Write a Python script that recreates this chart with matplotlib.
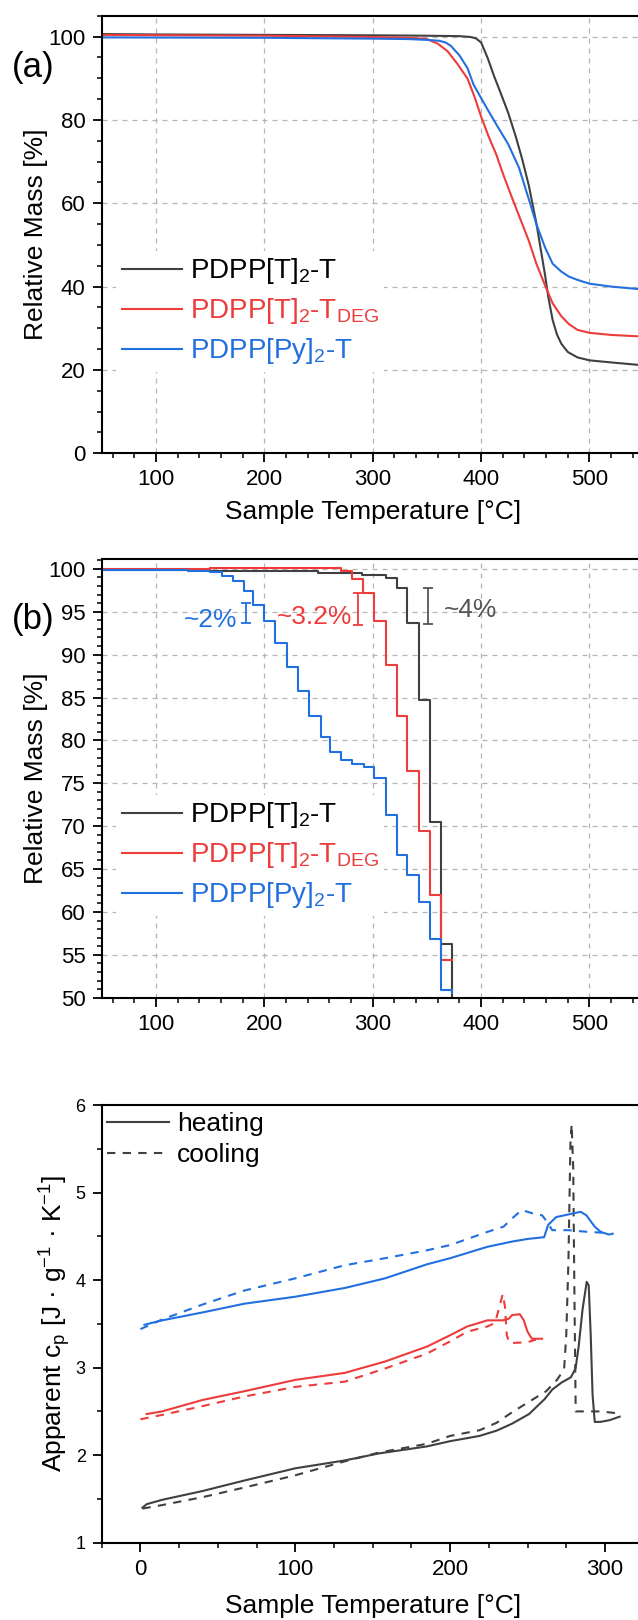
import matplotlib
matplotlib.use('Agg')
import matplotlib.pyplot as plt
import matplotlib.ticker as ticker
from matplotlib.lines import Line2D

plt.rcParams['font.family'] = ['Liberation Sans', 'DejaVu Sans']
plt.rcParams['mathtext.fontset'] = 'custom'
plt.rcParams['mathtext.rm'] = 'Liberation Sans'
plt.rcParams['mathtext.it'] = 'Liberation Sans:italic'
plt.rcParams['mathtext.bf'] = 'Liberation Sans:bold'

GRAY = '#404040'
RED = '#ee3b3b'
BLUE = '#2270e0'

labels = ['PDPP[T]$_2$-T', 'PDPP[T]$_2$-T$_{\\mathrm{DEG}}$', 'PDPP[Py]$_2$-T']

# (a) TGA ramp
t_a_t = [50, 100, 200, 300, 350, 380, 390, 395, 400, 406, 412, 418, 425, 432, 438, 444,
         451, 455, 459, 462, 466, 470, 474, 480, 489, 500, 520, 550]
m_a_t = [100.6, 100.5, 100.4, 100.3, 100.2, 100.1, 99.9, 99.6, 98.6, 94.9, 90.5, 86.5,
         81.7, 76.0, 70.5, 64.3, 55.2, 49.0, 42.8, 37.5, 32.0, 28.5, 26.3, 24.3, 23.0,
         22.3, 21.8, 21.1]
t_a_deg = [50, 200, 300, 330, 340, 350, 360, 369, 378, 387.5, 394, 400, 407, 414, 421,
           429, 436.5, 444, 451, 459, 466, 474, 481, 489, 500, 520, 550]
m_a_deg = [100.4, 100.2, 99.9, 99.7, 99.6, 99.4, 98.3, 96.5, 93.5, 89.9, 85.5, 80.8, 76.0,
           71.7, 66.5, 61.0, 56.0, 51.0, 45.5, 40.3, 36.0, 32.9, 31.0, 29.6, 28.9, 28.4,
           28.0]
t_a_py = [50, 200, 300, 332, 350, 361, 367, 372, 380, 387.5, 393, 398.8, 406, 415, 425,
          435, 444, 451, 459, 466, 474, 481, 489, 500, 520, 550]
m_a_py = [99.8, 99.7, 99.5, 99.4, 99.2, 99.0, 98.6, 97.8, 95.5, 92.4, 88.5, 85.8, 82.5,
          78.5, 74.2, 68.5, 61.0, 55.0, 49.4, 45.5, 43.6, 42.4, 41.6, 40.7, 40.0, 39.3]

# (b) TGA isothermal steps
t_b_t = [50, 150, 200, 250, 290, 312, 322, 332, 343, 353, 363, 373, 374]
m_b_t = [99.9, 99.8, 99.7, 99.5, 99.3, 98.9, 97.8, 93.7, 84.7, 70.5, 56.3, 49.0, 49.0]
t_b_deg = [50, 150, 271, 281, 291, 301, 312, 322, 332, 343, 353, 363, 373]
m_b_deg = [100.0, 100.1, 99.7, 98.8, 97.2, 93.9, 88.8, 82.8, 76.4, 69.4, 62.0, 54.4, 54.4]
t_b_py = [50, 100, 130, 150, 161, 171, 181, 190, 200, 210, 221, 231, 241, 252, 261, 271,
          281, 292, 301, 312, 322, 332, 343, 353, 363, 373]
m_b_py = [99.9, 99.9, 99.8, 99.6, 99.2, 98.6, 97.4, 95.8, 93.9, 91.4, 88.6, 85.7, 82.8,
          80.4, 78.7, 77.7, 77.3, 76.9, 75.6, 71.3, 66.6, 64.3, 61.2, 56.9, 50.9, 50.6]

# step annotations: bar x, bar bottom, bar top, text x, text y, text, colour
steps_note = [
    (182.8, 93.7, 96.0, 150.8, 94.0, '~2%', BLUE),
    (286.2, 93.5, 97.2, 246.8, 94.4, '~3.2%', RED),
    (351.4, 93.6, 97.8, 390.0, 95.2, '~4%', '#555555'),
]

# (c) DSC
t_c_t_h = [1.3, 4, 14, 40, 67, 100, 132, 154, 185, 200, 219, 230, 240, 251, 261, 266, 272,
           278, 281, 283, 285.5, 288.2, 289.5, 290.8, 292, 293.4, 297, 303, 309.5]
c_c_t_h = [1.40, 1.44, 1.49, 1.59, 1.71, 1.85, 1.94, 2.02, 2.10, 2.16, 2.22, 2.28, 2.36,
           2.47, 2.64, 2.75, 2.83, 2.89, 2.99, 3.24, 3.66, 3.98, 3.94, 3.37, 2.69, 2.38,
           2.38, 2.40, 2.44]
t_c_t_c = [1.3, 14, 40, 67, 100, 132, 154, 185, 200, 219, 230, 240, 250, 262, 269, 273.6,
           275, 276.4, 277.7, 278.5, 279.5, 280.3, 281.1, 285, 297, 307.3]
c_c_t_c = [1.39, 1.43, 1.52, 1.63, 1.77, 1.93, 2.03, 2.13, 2.22, 2.285, 2.37, 2.49, 2.60,
           2.73, 2.86, 2.98, 3.37, 4.21, 5.56, 5.78, 5.27, 3.79, 2.50, 2.50, 2.50, 2.48]
t_c_deg_h = [4, 14, 40, 67, 100, 132, 158, 185, 200, 211, 224, 234, 238, 240, 245, 247.6,
             250, 252.8, 259.4]
c_c_deg_h = [2.47, 2.50, 2.63, 2.73, 2.86, 2.94, 3.07, 3.24, 3.37, 3.47, 3.54, 3.54, 3.56,
             3.60, 3.61, 3.54, 3.41, 3.33, 3.33]
t_c_deg_c = [0, 14, 40, 67, 100, 132, 158, 185, 200, 211, 224, 229, 231.9, 234, 235.4,
             236.6, 238.4, 250, 255.4]
c_c_deg_c = [2.41, 2.46, 2.56, 2.67, 2.78, 2.84, 2.99, 3.16, 3.30, 3.41, 3.47, 3.51, 3.70,
             3.84, 3.70, 3.37, 3.28, 3.29, 3.32]
t_c_py_h = [2.6, 14, 40, 67, 100, 132, 158, 185, 200, 224, 240, 250, 260.7, 263.3, 268.5,
            276.4, 284.3, 288, 293.4, 297.3, 302.6, 305]
c_c_py_h = [3.49, 3.54, 3.63, 3.73, 3.81, 3.91, 4.02, 4.18, 4.25, 4.38, 4.44, 4.47, 4.49,
            4.63, 4.72, 4.75, 4.78, 4.74, 4.61, 4.55, 4.52, 4.53]
t_c_py_c = [0, 14, 40, 67, 100, 132, 158, 185, 200, 224, 234.5, 241, 246.3, 250, 255.4,
            259.4, 262, 266, 276.4, 289.5, 300]
c_c_py_c = [3.44, 3.55, 3.72, 3.88, 4.02, 4.17, 4.25, 4.34, 4.40, 4.55, 4.61, 4.72, 4.80,
            4.78, 4.75, 4.74, 4.68, 4.57, 4.57, 4.55, 4.54]

LW = 1.5
DASH = (0, (4, 3.5))
GRID = dict(color='#b4b4b4', linestyle=(0, (4, 4)), linewidth=0.9)


def style_axis(ax, ylabelsize=16):
    ax.spines['right'].set_visible(False)
    for s in ['left', 'bottom', 'top']:
        ax.spines[s].set_linewidth(1.5)
    ax.tick_params(which='major', direction='out', length=6.5, width=1.3, pad=5,
                   labelsize=16, top=False, right=False)
    ax.tick_params(which='minor', direction='out', length=3.5, width=1.1,
                   top=False, right=False)
    ax.tick_params(axis='y', labelsize=ylabelsize)


def tga_legend(ax):
    leg = ax.legend(loc='upper left', bbox_to_anchor=(0.027, 0.463), borderaxespad=0,
                    fontsize=20, frameon=True, facecolor='white', edgecolor='none',
                    framealpha=1, fancybox=False, borderpad=0.2, handlelength=2.15,
                    handletextpad=0.3, labelspacing=0.36)
    for txt, col in zip(leg.get_texts(), ['black', RED, BLUE]):
        txt.set_color(col)


fig = plt.figure(figsize=(6.38, 16.2), dpi=100)
ax_a = fig.add_axes([0.1594, 0.7202, 0.8495, 0.2701])
ax_b = fig.add_axes([0.1594, 0.3841, 0.8495, 0.2706])
ax_c = fig.add_axes([0.1594, 0.0477, 0.8495, 0.2702])

# panel (a)
ax_a.plot(t_a_t, m_a_t, color=GRAY, lw=LW, label=labels[0])
ax_a.plot(t_a_deg, m_a_deg, color=RED, lw=LW, label=labels[1])
ax_a.plot(t_a_py, m_a_py, color=BLUE, lw=LW, label=labels[2])
ax_a.set_xlim(50, 550)
ax_a.set_ylim(0, 105)
ax_a.xaxis.set_major_locator(ticker.MultipleLocator(100))
ax_a.xaxis.set_minor_locator(ticker.MultipleLocator(20))
ax_a.yaxis.set_major_locator(ticker.MultipleLocator(20))
ax_a.yaxis.set_minor_locator(ticker.MultipleLocator(5))
ax_a.set_axisbelow(True)
ax_a.grid(True, which='major', **GRID)
style_axis(ax_a)
ax_a.set_ylabel('Relative Mass [%]', fontsize=19, labelpad=0)
ax_a.set_xlabel('Sample Temperature [°C]', fontsize=19, labelpad=7)
tga_legend(ax_a)

# panel (b)
ax_b.plot(t_b_t, m_b_t, color=GRAY, lw=LW, drawstyle='steps-post', label=labels[0])
ax_b.plot(t_b_deg, m_b_deg, color=RED, lw=LW, drawstyle='steps-post', label=labels[1])
ax_b.plot(t_b_py, m_b_py, color=BLUE, lw=LW, drawstyle='steps-post', label=labels[2])
for x, lo, hi, tx, ty, s, col in steps_note:
    ax_b.errorbar([x], [(lo + hi) / 2], yerr=[(hi - lo) / 2], color=col, lw=1.3,
                  capsize=3.5, capthick=1.3)
    ax_b.text(tx, ty, s, color=col, fontsize=19, ha='center', va='center')
ax_b.set_xlim(50, 550)
ax_b.set_ylim(50, 101.1)
ax_b.xaxis.set_major_locator(ticker.MultipleLocator(100))
ax_b.xaxis.set_minor_locator(ticker.MultipleLocator(20))
ax_b.yaxis.set_major_locator(ticker.MultipleLocator(5))
ax_b.yaxis.set_minor_locator(ticker.MultipleLocator(1))
ax_b.set_axisbelow(True)
ax_b.grid(True, which='major', **GRID)
style_axis(ax_b)
ax_b.set_ylabel('Relative Mass [%]', fontsize=19, labelpad=0)
tga_legend(ax_b)

# panel (c)
ax_c.plot(t_c_t_h, c_c_t_h, color=GRAY, lw=LW)
ax_c.plot(t_c_t_c, c_c_t_c, color=GRAY, lw=LW, ls=DASH)
ax_c.plot(t_c_deg_h, c_c_deg_h, color=RED, lw=LW)
ax_c.plot(t_c_deg_c, c_c_deg_c, color=RED, lw=LW, ls=DASH)
ax_c.plot(t_c_py_h, c_c_py_h, color=BLUE, lw=LW)
ax_c.plot(t_c_py_c, c_c_py_c, color=BLUE, lw=LW, ls=DASH)
ax_c.set_xlim(-25, 325)
ax_c.set_ylim(1, 6)
ax_c.xaxis.set_major_locator(ticker.MultipleLocator(100))
ax_c.xaxis.set_minor_locator(ticker.MultipleLocator(25))
ax_c.yaxis.set_major_locator(ticker.MultipleLocator(1))
ax_c.yaxis.set_minor_locator(ticker.MultipleLocator(0.5))
style_axis(ax_c, ylabelsize=13)
ax_c.set_ylabel('Apparent c$_\\mathrm{p}$ [J · g$^{-1}$ · K$^{-1}$]', fontsize=19, labelpad=2)
ax_c.set_xlabel('Sample Temperature [°C]', fontsize=19, labelpad=10)
handles = [Line2D([], [], color=GRAY, lw=LW), Line2D([], [], color=GRAY, lw=LW, ls=DASH)]
ax_c.legend(handles, ['heating', 'cooling'], loc='upper left', bbox_to_anchor=(0.0, 0.995),
            borderaxespad=0, fontsize=19, frameon=False, borderpad=0.2,
            handlelength=2.35, handletextpad=0.3, labelspacing=0.25)

fig.text(0.052, 1 - 68 / 1620, '(a)', fontsize=25, ha='center', va='center')
fig.text(0.052, 1 - 620 / 1620, '(b)', fontsize=25, ha='center', va='center')

fig.savefig('out.png', dpi=100)
